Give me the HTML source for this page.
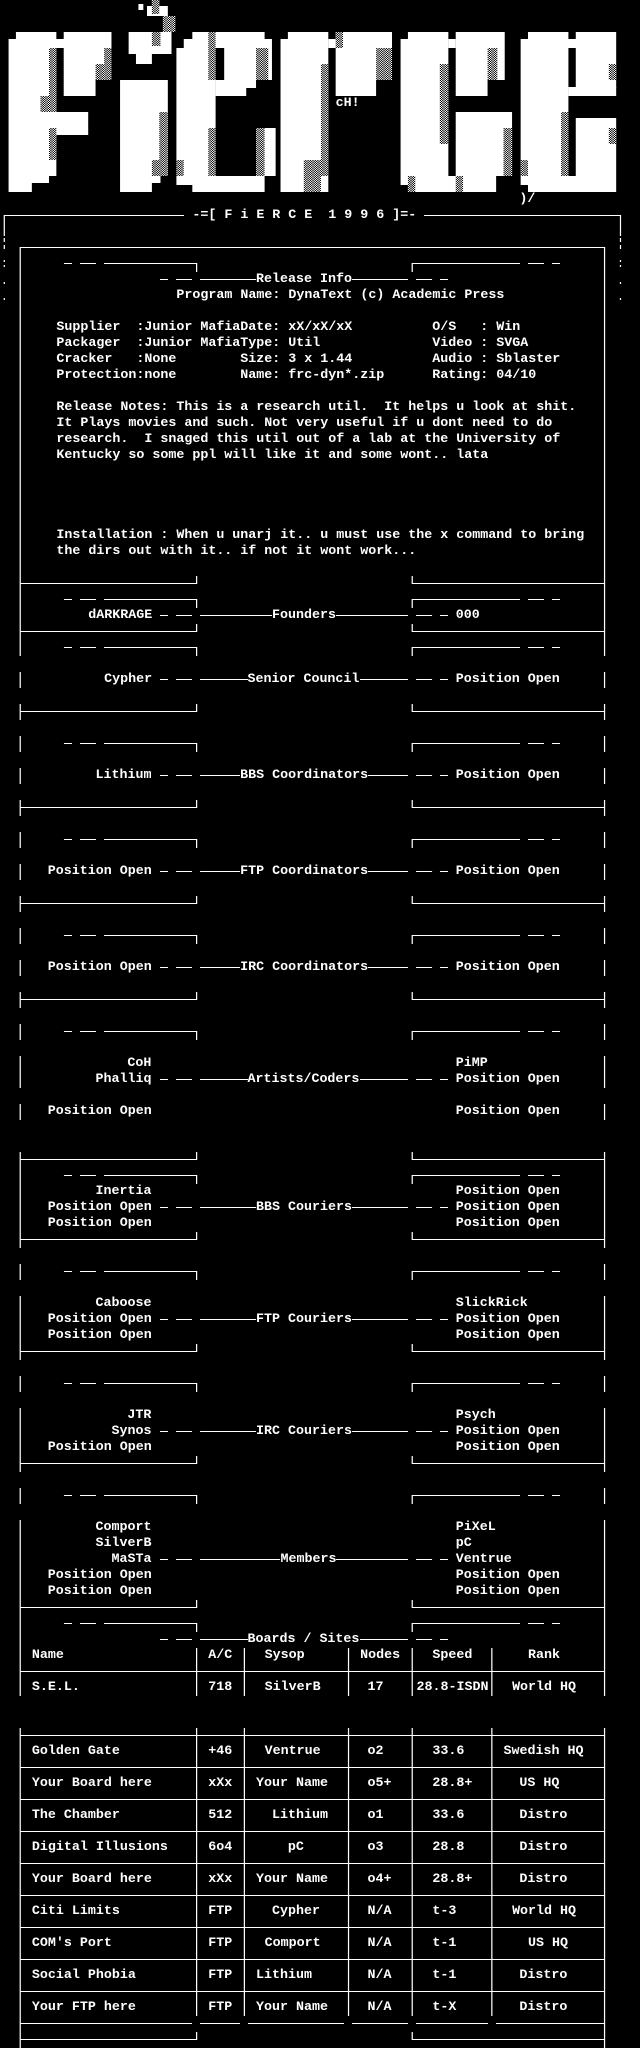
<!DOCTYPE html>
<html><head><meta charset="utf-8"><style>
html,body{margin:0;padding:0;background:#000;}
#c{position:relative;width:640px;height:2048px;overflow:hidden;background:#000;}
#w{position:absolute;left:0;top:0;width:523px;height:2048px;transform:scaleX(1.22503);transform-origin:0 0;}
#w span{position:absolute;white-space:pre;font-family:"Liberation Mono","DejaVu Sans Mono",monospace;font-weight:bold;font-size:13.333px;line-height:16px;height:16px;color:#fff;transform:scaleX(.8163);transform-origin:0 0;}
svg{position:absolute;left:0;top:0;}
</style></head><body><div id="c"><div id="w">
<svg width="523" height="2048" viewBox="0 0 523 2048">
<defs><pattern id="d" width="2" height="2" patternUnits="userSpaceOnUse"><rect width="2" height="2" fill="#000"/><rect width="1" height="1" fill="#fff"/><rect x="1" y="1" width="1" height="1" fill="#fff"/></pattern></defs>
<g fill="#fff">
<rect x="13" y="32" width="33" height="8"/><rect x="7" y="39" width="39" height="137"/><rect x="45" y="39" width="10" height="9"/><rect x="52" y="32" width="39" height="48"/><rect x="52" y="80" width="26" height="16"/><rect x="45" y="112" width="27" height="23"/><rect x="7" y="176" width="33" height="7"/><rect x="7" y="183" width="19" height="9"/>
<rect x="124" y="0" width="6" height="16"/><rect x="120" y="6" width="17" height="10"/><rect x="133" y="16" width="10" height="16"/><rect x="113" y="4" width="4" height="6"/><rect x="105" y="32" width="35" height="22"/><rect x="111" y="54" width="13" height="10"/><rect x="98" y="80" width="39" height="96"/><rect x="98" y="176" width="33" height="7"/><rect x="98" y="183" width="26" height="9"/>
<rect x="157" y="32" width="59" height="7"/><rect x="150" y="39" width="72" height="9"/><rect x="144" y="48" width="32" height="137"/><rect x="183" y="48" width="39" height="32"/><rect x="176" y="80" width="33" height="8"/><rect x="176" y="88" width="25" height="8"/><rect x="209" y="128" width="16" height="48"/><rect x="157" y="176" width="59" height="16"/>
<rect x="235" y="32" width="33" height="7"/><rect x="229" y="39" width="39" height="137"/><rect x="268" y="39" width="7" height="9"/><rect x="274" y="32" width="46" height="48"/><rect x="274" y="80" width="33" height="16"/><rect x="229" y="176" width="39" height="16"/>
<rect x="333" y="32" width="33" height="7"/><rect x="327" y="39" width="39" height="146"/><rect x="366" y="39" width="6" height="9"/><rect x="372" y="32" width="40" height="48"/><rect x="372" y="80" width="26" height="16"/><rect x="372" y="112" width="46" height="64"/><rect x="333" y="176" width="72" height="16"/><rect x="366" y="176" width="6" height="7"/>
<rect x="431" y="32" width="33" height="7"/><rect x="470" y="32" width="33" height="7"/><rect x="425" y="39" width="78" height="9"/><rect x="425" y="48" width="39" height="137"/><rect x="470" y="48" width="33" height="40"/><rect x="464" y="87" width="39" height="9"/><rect x="470" y="118" width="33" height="58"/><rect x="431" y="176" width="72" height="16"/>
</g>
<g fill="url(#d)">
<rect x="40" y="48" width="6" height="64"/><rect x="33" y="96" width="12" height="16"/><rect x="40" y="128" width="6" height="32"/><rect x="85" y="48" width="6" height="32"/><rect x="78" y="64" width="7" height="16"/>
<rect x="130" y="112" width="7" height="64"/><rect x="124" y="160" width="7" height="16"/><rect x="124" y="32" width="7" height="14"/><rect x="124" y="0" width="6" height="14"/><rect x="133" y="16" width="10" height="16"/>
<rect x="170" y="32" width="6" height="48"/><rect x="170" y="128" width="6" height="48"/><rect x="209" y="48" width="10" height="32"/><rect x="209" y="128" width="7" height="48"/><rect x="144" y="160" width="6" height="16"/>
<rect x="262" y="64" width="6" height="112"/><rect x="248" y="160" width="14" height="32"/><rect x="307" y="48" width="13" height="32"/><rect x="274" y="32" width="6" height="16"/>
<rect x="359" y="64" width="7" height="80"/><rect x="398" y="48" width="8" height="32"/><rect x="411" y="128" width="7" height="48"/><rect x="333" y="176" width="6" height="16"/><rect x="372" y="176" width="6" height="16"/>
<rect x="458" y="112" width="6" height="64"/><rect x="497" y="64" width="6" height="16"/><rect x="497" y="128" width="6" height="16"/><rect x="425" y="160" width="6" height="16"/>
</g>
<path fill="none" stroke="#fff" stroke-width="1" d="
M3.5 236V215.5H150.2 M346.1 215.5H506.5V236
M3.5 238V242M3.5 245V249M3.5 260V262M3.5 265V267M3.5 282V284M3.5 298V300
M506.5 238V242M506.5 245V249M506.5 260V262M506.5 265V267M506.5 282V284M506.5 298V300
M16.5 656V247.5H493.5V656
M16.5 672V688M493.5 672V688 M16.5 704V720M493.5 704V720 M16.5 736V752M493.5 736V752 M16.5 768V784M493.5 768V784
M16.5 800V816M493.5 800V816 M16.5 832V848M493.5 832V848 M16.5 864V880M493.5 864V880 M16.5 896V912M493.5 896V912
M16.5 928V944M493.5 928V944 M16.5 960V976M493.5 960V976 M16.5 992V1008M493.5 992V1008 M16.5 1024V1040M493.5 1024V1040
M16.5 1056V1088M493.5 1056V1088 M16.5 1104V1120M493.5 1104V1120 M16.5 1152V1248M493.5 1152V1248 M16.5 1264V1280M493.5 1264V1280
M16.5 1296V1360M493.5 1296V1360 M16.5 1376V1392M493.5 1376V1392 M16.5 1408V1472M493.5 1408V1472 M16.5 1488V1504M493.5 1488V1504
M16.5 1520V1696M493.5 1520V1696 M16.5 1728V2048M493.5 1728V2048
M160.5 1648V1696M199.5 1648V1696M284.5 1648V1696M336.5 1648V1696M401.5 1648V1696
M160.5 1728V2016M199.5 1728V2016M284.5 1728V2016M336.5 1728V2016M401.5 1728V2016
M16.5 1671.5H493.5 M16.5 1735.5H493.5 M16.5 1767.5H493.5 M16.5 1799.5H493.5 M16.5 1831.5H493.5 M16.5 1863.5H493.5 M16.5 1895.5H493.5 M16.5 1927.5H493.5 M16.5 1959.5H493.5 M16.5 1991.5H493.5
M16.5 2023.5H156.7 M163.3 2023.5H195.9 M202.4 2023.5H280.8 M287.3 2023.5H333.1 M339.6 2023.5H398.4 M404.9 2023.5H493.5
M52.2 263.5H58.8M65.3 263.5H78.4M84.9 263.5H160.5V272M336.5 272V263.5H424.5M431 263.5H444.1M450.6 263.5H457.1
M52.2 599.5H58.8M65.3 599.5H78.4M84.9 599.5H160.5V608M336.5 608V599.5H424.5M431 599.5H444.1M450.6 599.5H457.1
M52.2 647.5H58.8M65.3 647.5H78.4M84.9 647.5H160.5V656M336.5 656V647.5H424.5M431 647.5H444.1M450.6 647.5H457.1
M52.2 743.5H58.8M65.3 743.5H78.4M84.9 743.5H160.5V752M336.5 752V743.5H424.5M431 743.5H444.1M450.6 743.5H457.1
M52.2 839.5H58.8M65.3 839.5H78.4M84.9 839.5H160.5V848M336.5 848V839.5H424.5M431 839.5H444.1M450.6 839.5H457.1
M52.2 935.5H58.8M65.3 935.5H78.4M84.9 935.5H160.5V944M336.5 944V935.5H424.5M431 935.5H444.1M450.6 935.5H457.1
M52.2 1031.5H58.8M65.3 1031.5H78.4M84.9 1031.5H160.5V1040M336.5 1040V1031.5H424.5M431 1031.5H444.1M450.6 1031.5H457.1
M52.2 1175.5H58.8M65.3 1175.5H78.4M84.9 1175.5H160.5V1184M336.5 1184V1175.5H424.5M431 1175.5H444.1M450.6 1175.5H457.1
M52.2 1271.5H58.8M65.3 1271.5H78.4M84.9 1271.5H160.5V1280M336.5 1280V1271.5H424.5M431 1271.5H444.1M450.6 1271.5H457.1
M52.2 1383.5H58.8M65.3 1383.5H78.4M84.9 1383.5H160.5V1392M336.5 1392V1383.5H424.5M431 1383.5H444.1M450.6 1383.5H457.1
M52.2 1495.5H58.8M65.3 1495.5H78.4M84.9 1495.5H160.5V1504M336.5 1504V1495.5H424.5M431 1495.5H444.1M450.6 1495.5H457.1
M52.2 1623.5H58.8M65.3 1623.5H78.4M84.9 1623.5H160.5V1632M336.5 1632V1623.5H424.5M431 1623.5H444.1M450.6 1623.5H457.1
M130.6 279.5H137.1M143.7 279.5H156.7M163.3 279.5H209M287.4 279.5H333.1M339.6 279.5H352.7M359.2 279.5H365.7
M130.6 615.5H137.1M143.7 615.5H156.7M163.3 615.5H222M274.3 615.5H333.1M339.6 615.5H352.7M359.2 615.5H365.7
M130.6 679.5H137.1M143.7 679.5H156.7M163.3 679.5H202.4M293.9 679.5H333.1M339.6 679.5H352.7M359.2 679.5H365.7
M130.6 775.5H137.1M143.7 775.5H156.7M163.3 775.5H195.9M300.4 775.5H333.1M339.6 775.5H352.7M359.2 775.5H365.7
M130.6 871.5H137.1M143.7 871.5H156.7M163.3 871.5H195.9M300.4 871.5H333.1M339.6 871.5H352.7M359.2 871.5H365.7
M130.6 967.5H137.1M143.7 967.5H156.7M163.3 967.5H195.9M300.4 967.5H333.1M339.6 967.5H352.7M359.2 967.5H365.7
M130.6 1079.5H137.1M143.7 1079.5H156.7M163.3 1079.5H202.4M293.9 1079.5H333.1M339.6 1079.5H352.7M359.2 1079.5H365.7
M130.6 1207.5H137.1M143.7 1207.5H156.7M163.3 1207.5H209M287.4 1207.5H333.1M339.6 1207.5H352.7M359.2 1207.5H365.7
M130.6 1319.5H137.1M143.7 1319.5H156.7M163.3 1319.5H209M287.4 1319.5H333.1M339.6 1319.5H352.7M359.2 1319.5H365.7
M130.6 1431.5H137.1M143.7 1431.5H156.7M163.3 1431.5H209M287.4 1431.5H333.1M339.6 1431.5H352.7M359.2 1431.5H365.7
M130.6 1559.5H137.1M143.7 1559.5H156.7M163.3 1559.5H228.6M274.3 1559.5H333.1M339.6 1559.5H352.7M359.2 1559.5H365.7
M130.6 1639.5H137.1M143.7 1639.5H156.7M163.3 1639.5H202.4M293.9 1639.5H333.1M339.6 1639.5H352.7M359.2 1639.5H365.7
M16.5 583.5H160.5V576M336.5 576V583.5H493.5
M16.5 631.5H160.5V624M336.5 624V631.5H493.5
M16.5 711.5H160.5V704M336.5 704V711.5H493.5
M16.5 807.5H160.5V800M336.5 800V807.5H493.5
M16.5 903.5H160.5V896M336.5 896V903.5H493.5
M16.5 999.5H160.5V992M336.5 992V999.5H493.5
M16.5 1159.5H160.5V1152M336.5 1152V1159.5H493.5
M16.5 1239.5H160.5V1232M336.5 1232V1239.5H493.5
M16.5 1351.5H160.5V1344M336.5 1344V1351.5H493.5
M16.5 1463.5H160.5V1456M336.5 1456V1463.5H493.5
M16.5 1607.5H160.5V1600M336.5 1600V1607.5H493.5
M16.5 2039.5H160.5V2032M336.5 2032V2039.5H493.5
"/>
</svg>
<span style="left:274.29px;top:96px">cH!</span>
<span style="left:424.49px;top:192px">)/</span>
<span style="left:156.73px;top:208px">-=[ F i E R C E  1 9 9 6 ]=-</span>
<span style="left:208.98px;top:272px">Release Info</span>
<span style="left:143.67px;top:288px">Program Name: DynaText (c) Academic Press</span>
<span style="left:45.71px;top:320px">Supplier  :Junior MafiaDate: xX/xX/xX          O/S   : Win</span>
<span style="left:45.71px;top:336px">Packager  :Junior MafiaType: Util              Video : SVGA</span>
<span style="left:45.71px;top:352px">Cracker   :None        Size: 3 x 1.44          Audio : Sblaster</span>
<span style="left:45.71px;top:368px">Protection:none        Name: frc-dyn*.zip      Rating: 04/10</span>
<span style="left:45.71px;top:400px">Release Notes: This is a research util.  It helps u look at shit.</span>
<span style="left:45.71px;top:416px">It Plays movies and such. Not very useful if u dont need to do</span>
<span style="left:45.71px;top:432px">research.  I snaged this util out of a lab at the University of</span>
<span style="left:45.71px;top:448px">Kentucky so some ppl will like it and some wont.. lata</span>
<span style="left:45.71px;top:528px">Installation : When u unarj it.. u must use the x command to bring</span>
<span style="left:45.71px;top:544px">the dirs out with it.. if not it wont work...</span>
<span style="left:71.84px;top:608px">dARKRAGE</span><span style="left:222.04px;top:608px">Founders</span><span style="left:372.24px;top:608px">000</span>
<span style="left:84.90px;top:672px">Cypher</span><span style="left:202.45px;top:672px">Senior Council</span><span style="left:372.24px;top:672px">Position Open</span>
<span style="left:78.37px;top:768px">Lithium</span><span style="left:195.92px;top:768px">BBS Coordinators</span><span style="left:372.24px;top:768px">Position Open</span>
<span style="left:39.18px;top:864px">Position Open</span><span style="left:195.92px;top:864px">FTP Coordinators</span><span style="left:372.24px;top:864px">Position Open</span>
<span style="left:39.18px;top:960px">Position Open</span><span style="left:195.92px;top:960px">IRC Coordinators</span><span style="left:372.24px;top:960px">Position Open</span>
<span style="left:104.49px;top:1056px">CoH</span><span style="left:372.24px;top:1056px">PiMP</span>
<span style="left:78.37px;top:1072px">Phalliq</span><span style="left:202.45px;top:1072px">Artists/Coders</span><span style="left:372.24px;top:1072px">Position Open</span>
<span style="left:39.18px;top:1104px">Position Open</span><span style="left:372.24px;top:1104px">Position Open</span>
<span style="left:78.37px;top:1184px">Inertia</span><span style="left:372.24px;top:1184px">Position Open</span>
<span style="left:39.18px;top:1200px">Position Open</span><span style="left:208.98px;top:1200px">BBS Couriers</span><span style="left:372.24px;top:1200px">Position Open</span>
<span style="left:39.18px;top:1216px">Position Open</span><span style="left:372.24px;top:1216px">Position Open</span>
<span style="left:78.37px;top:1296px">Caboose</span><span style="left:372.24px;top:1296px">SlickRick</span>
<span style="left:39.18px;top:1312px">Position Open</span><span style="left:208.98px;top:1312px">FTP Couriers</span><span style="left:372.24px;top:1312px">Position Open</span>
<span style="left:39.18px;top:1328px">Position Open</span><span style="left:372.24px;top:1328px">Position Open</span>
<span style="left:104.49px;top:1408px">JTR</span><span style="left:372.24px;top:1408px">Psych</span>
<span style="left:91.43px;top:1424px">Synos</span><span style="left:208.98px;top:1424px">IRC Couriers</span><span style="left:372.24px;top:1424px">Position Open</span>
<span style="left:39.18px;top:1440px">Position Open</span><span style="left:372.24px;top:1440px">Position Open</span>
<span style="left:78.37px;top:1520px">Comport</span><span style="left:372.24px;top:1520px">PiXeL</span>
<span style="left:78.37px;top:1536px">SilverB</span><span style="left:372.24px;top:1536px">pC</span>
<span style="left:91.43px;top:1552px">MaSTa</span><span style="left:228.57px;top:1552px">Members</span><span style="left:372.24px;top:1552px">Ventrue</span>
<span style="left:39.18px;top:1568px">Position Open</span><span style="left:372.24px;top:1568px">Position Open</span>
<span style="left:39.18px;top:1584px">Position Open</span><span style="left:372.24px;top:1584px">Position Open</span>
<span style="left:202.45px;top:1632px">Boards / Sites</span>
<span style="left:26.12px;top:1648px">Name</span><span style="left:169.80px;top:1648px">A/C</span><span style="left:215.51px;top:1648px">Sysop</span><span style="left:293.88px;top:1648px">Nodes</span><span style="left:352.65px;top:1648px">Speed</span><span style="left:431.02px;top:1648px">Rank</span>
<span style="left:26.12px;top:1680px">S.E.L.</span><span style="left:169.80px;top:1680px">718</span><span style="left:215.51px;top:1680px">SilverB</span><span style="left:300.41px;top:1680px">17</span><span style="left:339.59px;top:1680px">28.8-ISDN</span><span style="left:417.96px;top:1680px">World HQ</span>
<span style="left:26.12px;top:1744px">Golden Gate</span><span style="left:169.80px;top:1744px">+46</span><span style="left:215.51px;top:1744px">Ventrue</span><span style="left:300.41px;top:1744px">o2</span><span style="left:352.65px;top:1744px">33.6</span><span style="left:411.43px;top:1744px">Swedish HQ</span>
<span style="left:26.12px;top:1776px">Your Board here</span><span style="left:169.80px;top:1776px">xXx</span><span style="left:208.98px;top:1776px">Your Name</span><span style="left:300.41px;top:1776px">o5+</span><span style="left:352.65px;top:1776px">28.8+</span><span style="left:424.49px;top:1776px">US HQ</span>
<span style="left:26.12px;top:1808px">The Chamber</span><span style="left:169.80px;top:1808px">512</span><span style="left:222.04px;top:1808px">Lithium</span><span style="left:300.41px;top:1808px">o1</span><span style="left:352.65px;top:1808px">33.6</span><span style="left:424.49px;top:1808px">Distro</span>
<span style="left:26.12px;top:1840px">Digital Illusions</span><span style="left:169.80px;top:1840px">6o4</span><span style="left:235.10px;top:1840px">pC</span><span style="left:300.41px;top:1840px">o3</span><span style="left:352.65px;top:1840px">28.8</span><span style="left:424.49px;top:1840px">Distro</span>
<span style="left:26.12px;top:1872px">Your Board here</span><span style="left:169.80px;top:1872px">xXx</span><span style="left:208.98px;top:1872px">Your Name</span><span style="left:300.41px;top:1872px">o4+</span><span style="left:352.65px;top:1872px">28.8+</span><span style="left:424.49px;top:1872px">Distro</span>
<span style="left:26.12px;top:1904px">Citi Limits</span><span style="left:169.80px;top:1904px">FTP</span><span style="left:222.04px;top:1904px">Cypher</span><span style="left:300.41px;top:1904px">N/A</span><span style="left:352.65px;top:1904px">t-3</span><span style="left:417.96px;top:1904px">World HQ</span>
<span style="left:26.12px;top:1936px">COM's Port</span><span style="left:169.80px;top:1936px">FTP</span><span style="left:215.51px;top:1936px">Comport</span><span style="left:300.41px;top:1936px">N/A</span><span style="left:352.65px;top:1936px">t-1</span><span style="left:431.02px;top:1936px">US HQ</span>
<span style="left:26.12px;top:1968px">Social Phobia</span><span style="left:169.80px;top:1968px">FTP</span><span style="left:208.98px;top:1968px">Lithium</span><span style="left:300.41px;top:1968px">N/A</span><span style="left:352.65px;top:1968px">t-1</span><span style="left:424.49px;top:1968px">Distro</span>
<span style="left:26.12px;top:2000px">Your FTP here</span><span style="left:169.80px;top:2000px">FTP</span><span style="left:208.98px;top:2000px">Your Name</span><span style="left:300.41px;top:2000px">N/A</span><span style="left:352.65px;top:2000px">t-X</span><span style="left:424.49px;top:2000px">Distro</span>
</div></div></body></html>
